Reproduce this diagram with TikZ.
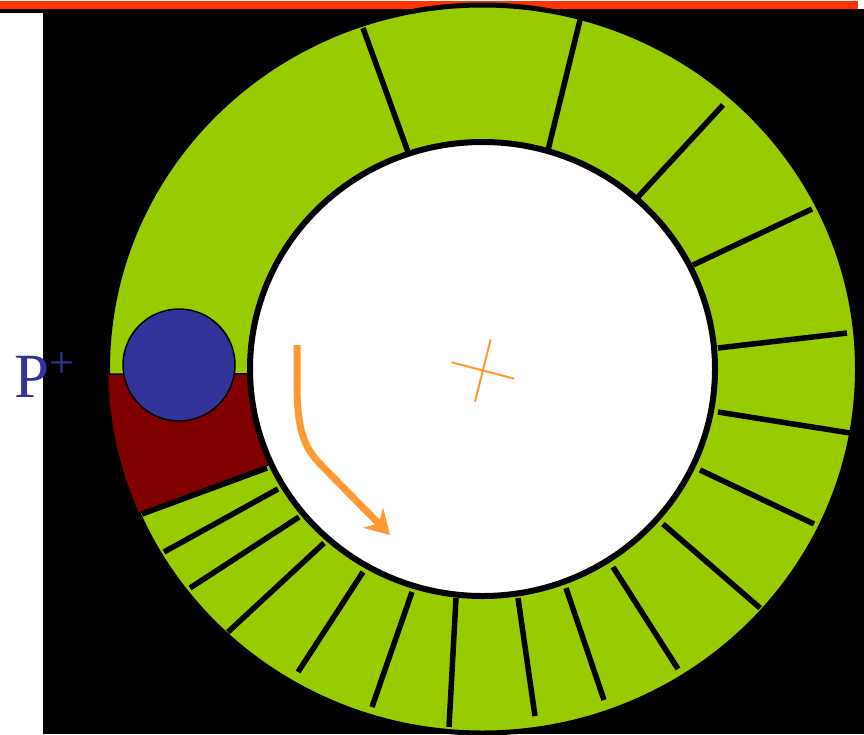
\documentclass[tikz,border=0pt]{standalone}
\usepackage{fontspec}
\setmainfont{Liberation Serif}
\usetikzlibrary{arrows.meta}
\definecolor{ringgreen}{HTML}{99CC00}
\definecolor{binred}{HTML}{800000}
\definecolor{protonblue}{HTML}{333399}
\definecolor{beamorange}{HTML}{FF9933}
\definecolor{topred}{HTML}{FF3300}
\begin{document}
\begin{tikzpicture}[x=1pt,y=-1pt,>={Stealth[length=24pt,width=28pt]},
  spoke/.style={line width=5.5pt},
  beam/.style={beamorange,line width=7pt}]
\useasboundingbox (0,0) rectangle (864,734);
\fill[white] (0,0) rectangle (864,734);
\fill[black] (0,9) rectangle (864,734);
\fill[white] (0,13) rectangle (43,734);
\draw[topred,line width=8pt] (0,5) -- (858,5);
\coordinate (c) at (482.5,369);

\begin{scope}[shift={(c)}]
\draw[fill=ringgreen,line width=5pt] (0,0) ellipse [x radius=375,y radius=364];
\draw[fill=binred,line width=1.5pt] (179.2:375 and 364) -- (178.8:232.5 and 227)
  arc [start angle=178.8,end angle=155.3,x radius=232.5,y radius=227]
  -- (156.6:375 and 364)
  arc [start angle=156.6,end angle=179.2,x radius=375,y radius=364] -- cycle;
\end{scope}

\foreach \xa/\ya/\xb/\yb in {408/152/363/28, 548/150/580/20, 638/197/723/105,
    693/265/812/209, 718/348/847/333, 718/412/850/433, 700/470/814/524,
    663/524/760/608, 613/567/678/669, 566/588/604/700, 518/598/535/716,
    456/598/449/727, 412/592/372/707, 363/572/298/672, 324/543/228/632,
    299/517/190/588, 278/489/164/552, 267/468/142/514}
  \draw[spoke] (\xa,\ya) -- (\xb,\yb);

\node[circle,draw,line width=1.5pt,fill=protonblue,minimum size=112pt,inner sep=0pt] (proton) at (179,365) {};
\draw[fill=white,line width=6pt] (c) ellipse [x radius=232.5,y radius=227];

\draw[beam,->] (297,345) -- (297,390) .. controls (298,440) and (308,452) .. (326,470) -- (390,535);
\draw[beamorange,line width=2pt] (451.7,362.3) -- (514.3,378.7) (490.7,339.3) -- (475,401.7);

\node[anchor=base west,inner sep=0pt,text=protonblue,font=\fontsize{63}{63}\selectfont] (plabel) at (14,397) {P\raisebox{20pt}{\fontsize{44}{44}\selectfont +}};
\end{tikzpicture}
\end{document}
